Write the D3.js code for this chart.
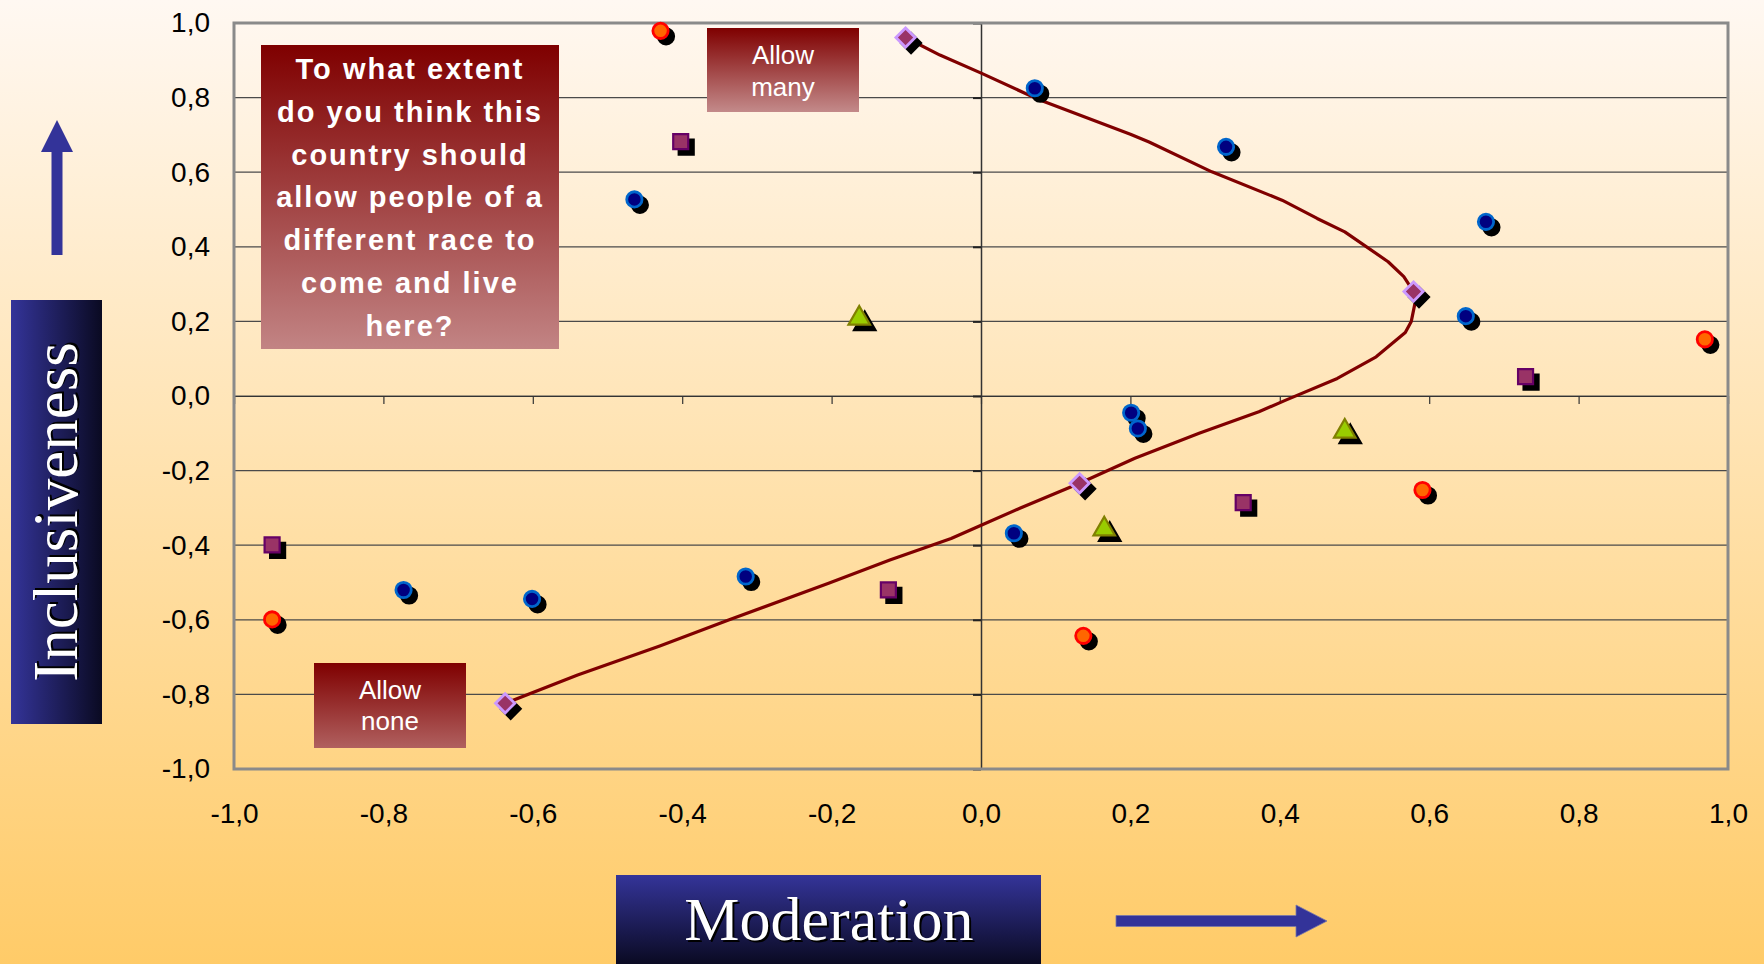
<!DOCTYPE html>
<html>
<head>
<meta charset="utf-8">
<script src="https://cdn.jsdelivr.net/npm/d3@7"></script>
<style>
  html, body { margin: 0; padding: 0; }
  svg { display: block; }
</style>
</head>
<body>
<svg id="chart" width="1764" height="964"></svg>
<script>
// Axis ticks
const tickValues = [-1, -0.8, -0.6, -0.4, -0.2, 0, 0.2, 0.4, 0.6, 0.8, 1];

// Point series (x = Moderation, y = Inclusiveness)
const orangeX = [-0.429, 0.969, -0.949, 0.137, 0.591];
const orangeY = [0.979, 0.152, -0.599, -0.643, -0.252];

const blueX = [0.072, 0.328, 0.676, -0.464, 0.649, 0.201, 0.210, 0.044, -0.773, -0.601, -0.315];
const blueY = [0.825, 0.668, 0.467, 0.527, 0.214, -0.045, -0.087, -0.368, -0.520, -0.544, -0.484];

const squareX = [-0.402, 0.729, 0.351, -0.949, -0.124];
const squareY = [0.682, 0.052, -0.286, -0.399, -0.520];

const triangleX = [-0.163, 0.487, 0.165];
const triangleY = [0.208, -0.095, -0.357];

const diamondX = [-0.101, 0.579, 0.132, -0.637];
const diamondY = [0.961, 0.280, -0.234, -0.824];

// Fitted curve through the diamonds
const curveX = [-0.637, -0.540, -0.430, -0.337, -0.204, -0.122, -0.040, 0.001, 0.052, 0.132,
                0.206, 0.292, 0.372, 0.408, 0.477, 0.529, 0.568, 0.576, 0.581, 0.579,
                0.566, 0.545, 0.487, 0.450, 0.403, 0.309, 0.225, 0.200, 0.078, 0.001,
                -0.055, -0.101];
const curveY = [-0.824, -0.748, -0.670, -0.600, -0.502, -0.440, -0.382, -0.346, -0.301, -0.234,
                -0.167, -0.100, -0.042, -0.011, 0.047, 0.105, 0.170, 0.200, 0.249, 0.280,
                0.320, 0.360, 0.440, 0.476, 0.525, 0.601, 0.681, 0.702, 0.794, 0.865,
                0.914, 0.961];

const svg = d3.select("#chart");
const W = 1764, H = 964;
const plot = { left: 234, right: 1728, top: 23, bottom: 769 };

const x = d3.scaleLinear().domain([-1, 1]).range([plot.left, plot.right]);
const y = d3.scaleLinear().domain([-1, 1]).range([plot.bottom, plot.top]);
const fmt = v => d3.format(".1f")(v).replace(".", ",").replace("−", "-");

const defs = svg.append("defs");
function vGrad(id, c0, c1) {
  const g = defs.append("linearGradient").attr("id", id).attr("x1", 0).attr("y1", 0).attr("x2", 0).attr("y2", 1);
  g.append("stop").attr("offset", "0%").attr("stop-color", c0);
  g.append("stop").attr("offset", "100%").attr("stop-color", c1);
}
function hGrad(id, c0, c1) {
  const g = defs.append("linearGradient").attr("id", id).attr("x1", 0).attr("y1", 0).attr("x2", 1).attr("y2", 0);
  g.append("stop").attr("offset", "0%").attr("stop-color", c0);
  g.append("stop").attr("offset", "100%").attr("stop-color", c1);
}
vGrad("bg", "#FFF8F2", "#FFCB68");
vGrad("maroonA", "#7F0000", "#C28484");
vGrad("maroonB", "#7F0000", "#C38A8A");
vGrad("maroonC", "#7F0000", "#B0605F");
hGrad("navyH", "#343499", "#0A0A22");
vGrad("navyV", "#343499", "#0A0A22");

// Background
svg.append("rect").attr("width", W).attr("height", H).attr("fill", "url(#bg)");

// Horizontal gridlines
svg.append("g").selectAll("line")
  .data(tickValues.filter(v => v > -1 && v < 1))
  .join("line")
  .attr("x1", plot.left).attr("x2", plot.right)
  .attr("y1", d => y(d)).attr("y2", d => y(d))
  .attr("stroke", "#4a4a4a").attr("stroke-width", 1.2);

// Y tick labels on the left edge
const yAxis = svg.append("g")
  .attr("transform", `translate(${plot.left},0)`)
  .call(d3.axisLeft(y).tickValues(tickValues).tickFormat(fmt).tickSize(0).tickPadding(24));
yAxis.select(".domain").remove();
yAxis.selectAll("text")
  .attr("font-family", "'Liberation Sans', Arial, sans-serif")
  .attr("font-size", 28).attr("fill", "#000");

// X tick labels below the plot
const xAxis = svg.append("g")
  .attr("transform", `translate(0,${plot.bottom})`)
  .call(d3.axisBottom(x).tickValues(tickValues).tickFormat(fmt).tickSize(0));
xAxis.select(".domain").remove();
xAxis.selectAll("text")
  .attr("y", 54).attr("dy", 0)
  .attr("font-family", "'Liberation Sans', Arial, sans-serif")
  .attr("font-size", 28).attr("fill", "#000");

// Central axes crossing at (0,0)
const xMid = svg.append("g")
  .attr("transform", `translate(0,${y(0)})`)
  .call(d3.axisBottom(x).tickValues(tickValues).tickFormat("").tickSize(8));
xMid.select(".domain").attr("stroke", "#333").attr("stroke-width", 1.2);
xMid.selectAll(".tick line").attr("stroke", "#333").attr("stroke-width", 1.2);

const yMid = svg.append("g")
  .attr("transform", `translate(${x(0)},0)`)
  .call(d3.axisLeft(y).tickValues(tickValues).tickFormat("").tickSize(8).tickSizeOuter(0));
yMid.select(".domain").attr("stroke", "#333").attr("stroke-width", 1.5);
yMid.selectAll(".tick line").attr("stroke", "#222").attr("stroke-width", 2);

// Plot border
svg.append("rect")
  .attr("x", plot.left).attr("y", plot.top)
  .attr("width", plot.right - plot.left).attr("height", plot.bottom - plot.top)
  .attr("fill", "none").attr("stroke", "#8a8a8a").attr("stroke-width", 3);

// Curve
const curvePts = curveX.map((v, i) => [v, curveY[i]]);
svg.append("path")
  .datum(curvePts)
  .attr("d", d3.line().x(d => x(d[0])).y(d => y(d[1])).curve(d3.curveLinear))
  .attr("fill", "none").attr("stroke", "#800000").attr("stroke-width", 3.2)
  .attr("stroke-linejoin", "round");

// Markers with drop shadows
const shadow = { dx: 5.5, dy: 5.5 };
function drawSeries(xs, ys, symbolType, size, fill, stroke, sw, rotate) {
  const pts = xs.map((v, i) => [v, ys[i]]);
  const sym = d3.symbol().type(symbolType).size(size);
  const g = svg.append("g");
  const rot = rotate ? ` rotate(${rotate})` : "";
  g.selectAll("path.sh").data(pts).join("path")
    .attr("class", "sh")
    .attr("d", sym)
    .attr("transform", d => `translate(${x(d[0]) + shadow.dx},${y(d[1]) + shadow.dy})${rot}`)
    .attr("fill", "#000").attr("stroke", "#000").attr("stroke-width", sw);
  g.selectAll("path.mk").data(pts).join("path")
    .attr("class", "mk")
    .attr("d", sym)
    .attr("transform", d => `translate(${x(d[0])},${y(d[1])})${rot}`)
    .attr("fill", fill).attr("stroke", stroke).attr("stroke-width", sw);
}

drawSeries(orangeX, orangeY, d3.symbolCircle, 185, "#FF6600", "#FF0000", 2.8);
drawSeries(blueX, blueY, d3.symbolCircle, 185, "#000080", "#0066CC", 2.8);
drawSeries(squareX, squareY, d3.symbolSquare, 225, "#993366", "#660066", 2.2);
drawSeries(triangleX, triangleY, d3.symbolTriangle, 200, "#99CC00", "#808000", 2.2);
drawSeries(diamondX, diamondY, d3.symbolSquare, 185, "#993366", "#CC99FF", 2.8, 45);

// Annotation boxes
const sansFont = "'Liberation Sans', Arial, sans-serif";
function box(x0, y0, x1, y1, grad, lines, baselines, size, weight, spacing) {
  svg.append("rect").attr("x", x0).attr("y", y0).attr("width", x1 - x0).attr("height", y1 - y0)
    .attr("fill", `url(#${grad})`);
  const cx = (x0 + x1) / 2;
  lines.forEach((t, i) => {
    svg.append("text").attr("x", cx).attr("y", baselines[i])
      .attr("text-anchor", "middle")
      .attr("font-family", sansFont).attr("font-size", size).attr("font-weight", weight)
      .attr("letter-spacing", spacing).attr("fill", "#fff")
      .text(t);
  });
}

const questionLines = ["To what extent", "do you think this", "country should",
  "allow people of a", "different race to", "come and live", "here?"];
box(261, 45, 559, 349, "maroonA", questionLines,
  questionLines.map((_, i) => 79 + i * 42.8), 29, "bold", 2);
box(707, 28, 859, 112, "maroonB", ["Allow", "many"], [64, 96], 26, "normal", 0);
box(314, 663, 466, 748, "maroonC", ["Allow", "none"], [699, 730], 26, "normal", 0);

// Axis title blocks
const serifFont = "'Liberation Serif', 'Times New Roman', serif";
svg.append("rect").attr("x", 11).attr("y", 300).attr("width", 91).attr("height", 424)
  .attr("fill", "url(#navyH)");
const yt = svg.append("g").attr("transform", "translate(77,512) rotate(-90)");
yt.append("text").attr("x", 2).attr("y", 2).attr("text-anchor", "middle")
  .attr("font-family", serifFont).attr("font-size", 63).attr("fill", "#000").text("Inclusiveness");
yt.append("text").attr("text-anchor", "middle")
  .attr("font-family", serifFont).attr("font-size", 63).attr("fill", "#fff").text("Inclusiveness");

svg.append("rect").attr("x", 616).attr("y", 875).attr("width", 425).attr("height", 89)
  .attr("fill", "url(#navyV)");
svg.append("text").attr("x", 831).attr("y", 942).attr("text-anchor", "middle")
  .attr("font-family", serifFont).attr("font-size", 62).attr("fill", "#000").text("Moderation");
svg.append("text").attr("x", 829).attr("y", 940).attr("text-anchor", "middle")
  .attr("font-family", serifFont).attr("font-size", 62).attr("fill", "#fff").text("Moderation");

// Direction arrows
svg.append("path")
  .attr("d", "M57,120 L73,152 L62.5,152 L62.5,255 L51.5,255 L51.5,152 L41,152 Z")
  .attr("fill", "#333399");
svg.append("path")
  .attr("d", "M1116,915.5 L1296,915.5 L1296,905 L1327,921 L1296,937 L1296,926.5 L1116,926.5 Z")
  .attr("fill", "#333399").attr("stroke", "#7777aa").attr("stroke-width", 0.8);
</script>
</body>
</html>
